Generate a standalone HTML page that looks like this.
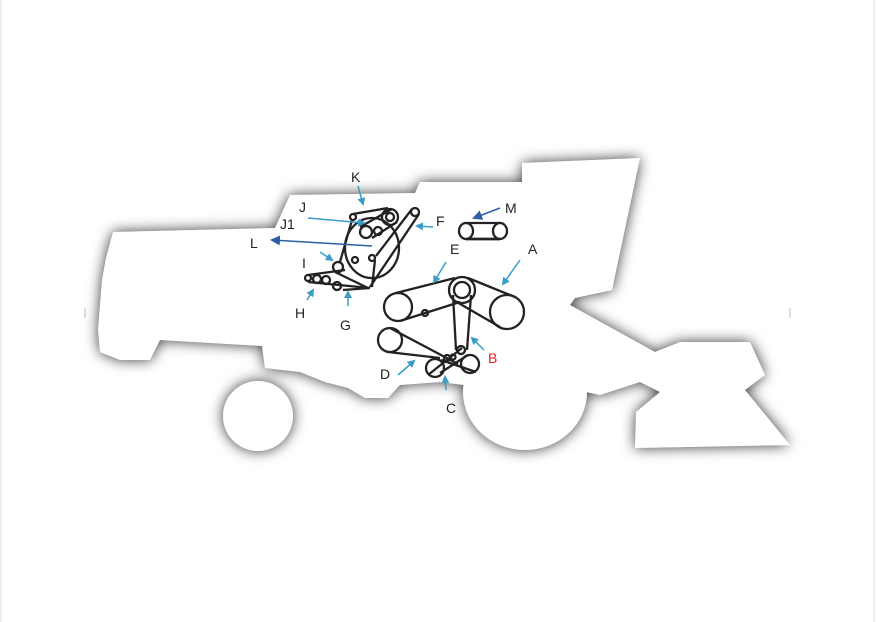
<!DOCTYPE html>
<html><head><meta charset="utf-8"><style>
html,body{margin:0;padding:0;background:#fff;}
svg{display:block;}
text{font-family:"Liberation Sans",Arial,sans-serif;font-size:14px;fill:#222;}
</style></head><body>
<svg width="876" height="622" viewBox="0 0 876 622" xmlns="http://www.w3.org/2000/svg">
<defs>
<filter id="sh" x="-10%" y="-20%" width="120%" height="140%">
<feGaussianBlur in="SourceAlpha" stdDeviation="7" result="b"/>
<feComponentTransfer in="b" result="c"><feFuncA type="linear" slope="1.4"/></feComponentTransfer>
<feFlood flood-color="#707070"/>
<feComposite in2="c" operator="in" result="s"/>
<feMerge><feMergeNode in="s"/><feMergeNode in="SourceGraphic"/></feMerge>
</filter>
<marker id="ar" markerWidth="8" markerHeight="8" refX="6" refY="4" orient="auto" markerUnits="userSpaceOnUse">
<path d="M0,0 L8,4 L0,8 z" fill="#3a9cc8"/></marker>
<marker id="ar2" markerWidth="10" markerHeight="10" refX="8" refY="5" orient="auto" markerUnits="userSpaceOnUse">
<path d="M0,0 L10,5 L0,10 z" fill="#2d5fa6"/></marker>
</defs>
<rect x="0" y="0" width="876" height="622" fill="#fff"/>
<line x1="1" y1="0" x2="1" y2="622" stroke="#ddd"/>
<line x1="874" y1="0" x2="874" y2="622" stroke="#ddd"/>
<line x1="85" y1="308" x2="85" y2="318" stroke="#bbb"/>
<line x1="790" y1="308" x2="790" y2="318" stroke="#bbb"/>
<g filter="url(#sh)" fill="#fff">
<path d="M113,232 L275,228 L290,195 L415,193 L420,182 L522,182 L522,163 L640,158 L612,290 L575,298 L570,305 L655,352 L680,342 L750,342 L765,375 L745,390 L790,445 L635,448 L636,412 L660,392 L640,382 L600,395 L586,392 L525,392 L464,385 L440,382 L400,385 L388,398 L365,398 L348,388 L325,382 L300,372 L265,368 L262,346 L160,340 L150,360 L120,360 L100,352 L98,330 L102,280 L106,258 Z"/>
<ellipse cx="525" cy="392" rx="62" ry="58"/>
<circle cx="258" cy="416" r="35"/>
</g>
<g fill="none" stroke="#222" stroke-width="2.3">
<circle cx="398" cy="307" r="14"/>
<circle cx="462" cy="290" r="13"/>
<circle cx="462" cy="290" r="8"/>
<ellipse cx="507" cy="312" rx="17" ry="17"/>
<circle cx="425" cy="313" r="3"/>
<line x1="396" y1="293" x2="455" y2="278"/>
<line x1="400" y1="321" x2="460" y2="302"/>
<line x1="468" y1="278" x2="515" y2="297"/>
<line x1="455" y1="301" x2="500" y2="327"/>
<line x1="453" y1="295" x2="456" y2="350"/>
<line x1="471" y1="295" x2="467" y2="350"/>
<circle cx="461" cy="350" r="4"/>
<circle cx="390" cy="340" r="12"/>
<circle cx="435" cy="368" r="9"/>
<circle cx="470" cy="364" r="9"/>
<circle cx="447" cy="358" r="3"/>
<circle cx="453" cy="357" r="2.5"/>
<line x1="390" y1="328" x2="458" y2="364"/>
<line x1="388" y1="352" x2="440" y2="358"/>
<line x1="428" y1="375" x2="462" y2="348"/>
<line x1="441" y1="360" x2="476" y2="372"/>
<line x1="440" y1="373" x2="468" y2="355"/>
<ellipse cx="372" cy="248" rx="27" ry="30"/>
<circle cx="390" cy="217" r="8"/>
<circle cx="390" cy="217" r="4"/>
<circle cx="415" cy="212" r="4"/>
<circle cx="366" cy="232" r="6"/>
<circle cx="378" cy="231" r="4"/>
<circle cx="353" cy="217" r="3"/>
<circle cx="338" cy="267" r="5"/>
<circle cx="355" cy="260" r="3"/>
<circle cx="372" cy="258" r="3"/>
<circle cx="308" cy="278" r="3"/>
<circle cx="317" cy="279" r="4"/>
<circle cx="326" cy="280" r="4"/>
<circle cx="337" cy="286" r="4"/>
<line x1="353" y1="214" x2="388" y2="208"/>
<line x1="360" y1="227" x2="392" y2="209"/>
<line x1="372" y1="238" x2="397" y2="222"/>
<line x1="352" y1="220" x2="340" y2="262"/>
<line x1="412" y1="209" x2="376" y2="256"/>
<line x1="419" y1="214" x2="370" y2="287"/>
<line x1="308" y1="275" x2="345" y2="270"/>
<line x1="308" y1="282" x2="370" y2="288"/>
<line x1="335" y1="272" x2="368" y2="288"/>
<line x1="375" y1="260" x2="372" y2="287"/>
<line x1="343" y1="290" x2="370" y2="288"/>
<ellipse cx="466" cy="231" rx="7" ry="8"/>
<ellipse cx="500" cy="231" rx="7" ry="8"/>
<line x1="466" y1="223" x2="500" y2="223"/>
<line x1="466" y1="239" x2="500" y2="239" stroke-width="2.8"/>
</g>
<g stroke="#3a9cc8" stroke-width="1.5" fill="none" marker-end="url(#ar)">
<line x1="358" y1="186" x2="363" y2="204"/>
<line x1="308" y1="218" x2="364" y2="223"/>
<line x1="433" y1="227" x2="417" y2="226"/>
<line x1="446" y1="262" x2="434" y2="282"/>
<line x1="520" y1="260" x2="503" y2="284"/>
<line x1="320" y1="252" x2="332" y2="260"/>
<line x1="307" y1="300" x2="313" y2="290"/>
<line x1="348" y1="306" x2="348" y2="292"/>
<line x1="484" y1="350" x2="472" y2="338"/>
<line x1="398" y1="375" x2="414" y2="361"/>
<line x1="446" y1="390" x2="445" y2="377"/>
</g>
<g stroke="#2d5fa6" stroke-width="1.5" fill="none" marker-end="url(#ar2)">
<line x1="372" y1="246" x2="272" y2="240"/>
<line x1="500" y1="208" x2="474" y2="218"/>
</g>
<text x="351" y="182">K</text>
<text x="299" y="212">J</text>
<text x="280" y="229">J1</text>
<text x="250" y="248">L</text>
<text x="436" y="226">F</text>
<text x="505" y="213">M</text>
<text x="450" y="254">E</text>
<text x="528" y="254">A</text>
<text x="302" y="268">I</text>
<text x="295" y="318">H</text>
<text x="340" y="330">G</text>
<text x="488" y="363" style="fill:#e02020">B</text>
<text x="380" y="379">D</text>
<text x="446" y="413">C</text>
</svg>
</body></html>
